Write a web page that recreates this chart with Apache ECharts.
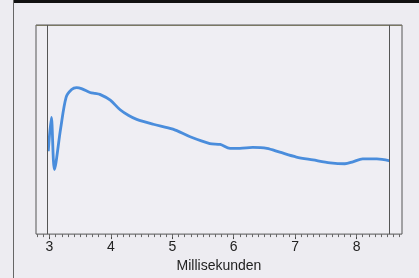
<!DOCTYPE html>
<html>
<head>
<meta charset="utf-8">
<script src="https://cdn.jsdelivr.net/npm/echarts@6/dist/echarts.min.js"></script>
<style>
html, body { margin: 0; padding: 0; background: #edecf1; }
#chart { width: 419px; height: 278px; }
</style>
</head>
<body>
<div id="chart"></div>
<script>
// time in ms, signal height (arbitrary units)
var times = [2.98, 3.03, 3.08, 3.18, 3.27, 3.36, 3.44, 3.52, 3.66, 3.74, 3.82, 3.99, 4.15, 4.29,
  4.42, 4.69, 5.01, 5.29, 5.61, 5.78, 5.94, 6.10, 6.31, 6.54, 6.75, 7.02, 7.29, 7.57, 7.81, 7.94,
  8.10, 8.33, 8.54];
var signal = [86, 121, 67, 109, 142, 150, 152, 151, 147, 146, 145, 139, 129, 123,
  119, 114, 109, 101, 94, 93, 89, 89, 90, 89, 85, 80, 77, 74, 73, 75,
  78, 78, 76];
var tickLabels = [3, 4, 5, 6, 7, 8];
var minorTicks = [];
for (var t = 28; t <= 87; t++) minorTicks.push(t / 10);
var markerLines = [2.97, 8.54];

var chart = echarts.init(document.getElementById('chart'), null, { renderer: 'canvas' });

var axisBase = {
  type: 'value',
  min: 2.78,
  max: 8.74,
  splitLine: { show: false },
  axisLine: { show: false }
};

chart.setOption({
  backgroundColor: '#edecf1',
  animation: false,
  grid: {
    left: 36, right: 17, top: 25, bottom: 36,
    show: true,
    backgroundColor: '#efeef3',
    borderColor: '#555',
    borderWidth: 1
  },
  graphic: [
    { type: 'rect', shape: { x: 13, y: 0, width: 406, height: 3 }, style: { fill: '#111' } },
    { type: 'line', shape: { x1: 13.5, y1: 0, x2: 13.5, y2: 278 }, style: { stroke: '#666', lineWidth: 1 } },
    { type: 'line', shape: { x1: 36, y1: 25.5, x2: 402, y2: 25.5 }, style: { stroke: '#7a7862', lineWidth: 1 } }
  ],
  xAxis: [
    Object.assign({}, axisBase, {
      position: 'bottom',
      name: 'Millisekunden',
      nameLocation: 'middle',
      nameGap: 23,
      nameTextStyle: { fontFamily: 'Liberation Sans', fontSize: 14, color: '#222' },
      axisTick: { show: true, customValues: tickLabels, length: 5, lineStyle: { color: '#444' } },
      axisLabel: {
        customValues: tickLabels,
        margin: 6,
        fontFamily: 'Liberation Sans',
        fontSize: 14,
        color: '#222'
      }
    }),
    Object.assign({}, axisBase, {
      position: 'bottom',
      axisTick: { show: true, customValues: minorTicks, length: 3, lineStyle: { color: '#666' } },
      axisLabel: { show: false }
    })
  ],
  yAxis: {
    type: 'value',
    min: 0,
    max: 217,
    show: false
  },
  series: [{
    type: 'line',
    data: times.map(function (x, i) { return [x, signal[i]]; }),
    smooth: 0.3,
    showSymbol: false,
    lineStyle: { color: '#4a8ddc', width: 2.8 },
    markLine: {
      silent: true,
      symbol: 'none',
      label: { show: false },
      lineStyle: { color: '#555', width: 1, type: 'solid' },
      data: markerLines.map(function (v) { return { xAxis: v }; })
    }
  }]
});
</script>
</body>
</html>
